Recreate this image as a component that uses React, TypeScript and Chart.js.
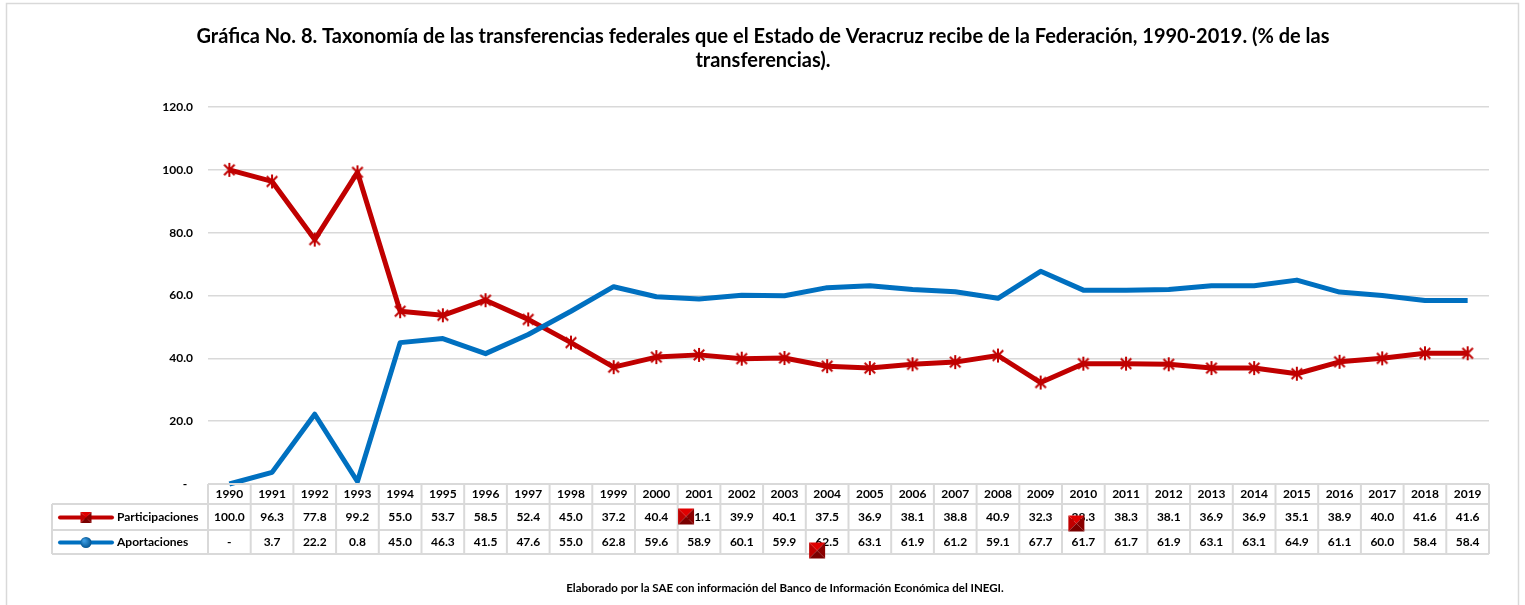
import React, { useEffect, useRef } from "react";
import { Chart, registerables } from "chart.js";

Chart.register(...registerables);

const years = [
  "1990", "1991", "1992", "1993", "1994", "1995", "1996", "1997", "1998", "1999",
  "2000", "2001", "2002", "2003", "2004", "2005", "2006", "2007", "2008", "2009",
  "2010", "2011", "2012", "2013", "2014", "2015", "2016", "2017", "2018", "2019",
];

const participaciones = [
  100.0, 96.3, 77.8, 99.2, 55.0, 53.7, 58.5, 52.4, 45.0, 37.2,
  40.4, 41.1, 39.9, 40.1, 37.5, 36.9, 38.1, 38.8, 40.9, 32.3,
  38.3, 38.3, 38.1, 36.9, 36.9, 35.1, 38.9, 40.0, 41.6, 41.6,
];

const aportaciones = [
  0, 3.7, 22.2, 0.8, 45.0, 46.3, 41.5, 47.6, 55.0, 62.8,
  59.6, 58.9, 60.1, 59.9, 62.5, 63.1, 61.9, 61.2, 59.1, 67.7,
  61.7, 61.7, 61.9, 63.1, 63.1, 64.9, 61.1, 60.0, 58.4, 58.4,
];

const seriesNames = ["Participaciones", "Aportaciones"];
const titleLines = [
  "Gráfica No. 8. Taxonomía de las transferencias federales que el Estado de Veracruz recibe de la Federación, 1990-2019. (% de las",
  "transferencias).",
];
const footnote = "Elaborado por la SAE con información del Banco de Información Económica del INEGI.";

const RED = "#C00000";
const BLUE = "#0070C0";
const GRID = "#d9d9d9";
const FONT = "Lato, 'Open Sans', sans-serif";

// stray legend-marker artifacts visible in the original (column index, row, dx, dy)
const strayMarkers = [
  { col: 11, row: 1, dx: -13, dy: -1 },
  { col: 14, row: 2, dx: -10, dy: 8 },
  { col: 20, row: 1, dx: -7, dy: 6 },
];

function makeStar(): HTMLCanvasElement {
  const c = document.createElement("canvas");
  c.width = 18;
  c.height = 18;
  const g = c.getContext("2d")!;
  g.strokeStyle = RED;
  g.lineWidth = 2;
  const cx = 9, cy = 9, r = 7, d = r * 0.75;
  g.beginPath();
  g.moveTo(cx - d, cy - d); g.lineTo(cx + d, cy + d);
  g.moveTo(cx + d, cy - d); g.lineTo(cx - d, cy + d);
  g.moveTo(cx, cy - r); g.lineTo(cx, cy + r);
  g.stroke();
  return c;
}

function drawPyramidSquare(ctx: CanvasRenderingContext2D, cx: number, cy: number, s: number) {
  const h = s / 2;
  const tris: [number, number, number, number, string][] = [
    [-h, -h, h, -h, "#e00000"],
    [-h, -h, -h, h, "#c00000"],
    [h, -h, h, h, "#8a0000"],
    [-h, h, h, h, "#7a0000"],
  ];
  for (const [x1, y1, x2, y2, col] of tris) {
    ctx.beginPath();
    ctx.moveTo(cx, cy);
    ctx.lineTo(cx + x1, cy + y1);
    ctx.lineTo(cx + x2, cy + y2);
    ctx.closePath();
    ctx.fillStyle = col;
    ctx.fill();
  }
}

const tablePlugin = {
  id: "dataTablePlugin",
  beforeDraw(chart: any) {
    const ctx: CanvasRenderingContext2D = chart.ctx;
    ctx.save();
    ctx.fillStyle = "#ffffff";
    ctx.fillRect(0, 0, chart.width, chart.height);
    ctx.strokeStyle = GRID;
    ctx.lineWidth = 1.5;
    ctx.strokeRect(6.5, 3.5, 1512, 700);
    ctx.restore();
  },
  afterDraw(chart: any) {
    const ctx: CanvasRenderingContext2D = chart.ctx;
    const xs = chart.scales.x;
    const area = chart.chartArea;
    const n = years.length;
    const colW = (area.right - area.left) / n;
    const top = area.bottom;
    const rowY = [top, top + 20, top + 46, top + 70];
    const legendLeft = 52;

    ctx.save();
    // title
    ctx.fillStyle = "#000";
    ctx.textAlign = "center";
    ctx.textBaseline = "middle";
    ctx.font = `bold 20px ${FONT}`;
    ctx.fillText(titleLines[0], 763, 37, 1133);
    ctx.fillText(titleLines[1], 763, 61);

    // footnote
    ctx.font = `bold 11.5px ${FONT}`;
    ctx.fillText(footnote, 785, 588, 474);

    // table grid
    ctx.strokeStyle = GRID;
    ctx.lineWidth = 2;
    ctx.beginPath();
    ctx.moveTo(area.left, rowY[0]); ctx.lineTo(area.right, rowY[0]);
    for (let r = 1; r < 4; r++) {
      ctx.moveTo(legendLeft, rowY[r]); ctx.lineTo(area.right, rowY[r]);
    }
    ctx.moveTo(legendLeft, rowY[1]); ctx.lineTo(legendLeft, rowY[3]);
    for (let i = 0; i <= n; i++) {
      const x = area.left + i * colW;
      ctx.moveTo(x, rowY[0]); ctx.lineTo(x, rowY[3]);
    }
    ctx.stroke();

    // cells
    ctx.fillStyle = "#000";
    ctx.font = `bold 12px ${FONT}`;
    ctx.textAlign = "center";
    const mid = (r: number) => (rowY[r] + rowY[r + 1]) / 2 + 0.5;
    for (let i = 0; i < n; i++) {
      const x = xs.getPixelForValue(i);
      ctx.fillText(years[i], x, mid(0), colW - 4);
      ctx.fillText(participaciones[i] === 0 ? "-" : participaciones[i].toFixed(1), x, mid(1), colW - 4);
      ctx.fillText(aportaciones[i] === 0 ? "-" : aportaciones[i].toFixed(1), x, mid(2), colW - 4);
    }

    // legend keys
    ctx.textAlign = "left";
    ctx.fillText(seriesNames[0], 117, mid(1), 84);
    ctx.fillText(seriesNames[1], 117, mid(2), 73);
    ctx.lineCap = "round";
    ctx.lineWidth = 4;
    ctx.strokeStyle = RED;
    ctx.beginPath();
    ctx.moveTo(60, mid(1)); ctx.lineTo(112, mid(1));
    ctx.stroke();
    ctx.strokeStyle = BLUE;
    ctx.beginPath();
    ctx.moveTo(60, mid(2)); ctx.lineTo(112, mid(2));
    ctx.stroke();
    drawPyramidSquare(ctx, 86, mid(1), 11);
    const grd = ctx.createRadialGradient(84, mid(2) - 2, 1, 86, mid(2), 6);
    grd.addColorStop(0, "#3a9ae0");
    grd.addColorStop(1, "#00508c");
    ctx.fillStyle = grd;
    ctx.beginPath();
    ctx.arc(86, mid(2), 5.5, 0, Math.PI * 2);
    ctx.fill();

    // stray markers
    for (const m of strayMarkers) {
      const x = xs.getPixelForValue(m.col) + m.dx;
      drawPyramidSquare(ctx, x, mid(m.row) + m.dy, 16);
    }
    ctx.restore();
  },
};

export default function App() {
  const ref = useRef<HTMLCanvasElement | null>(null);

  useEffect(() => {
    document.body.style.margin = "0";
    const canvas = ref.current!;
    const star = makeStar();
    const chart = new Chart(canvas, {
      type: "line",
      data: {
        labels: years,
        datasets: [
          {
            label: seriesNames[0],
            data: participaciones,
            borderColor: RED,
            backgroundColor: RED,
            borderWidth: 5,
            pointStyle: star as any,
            pointRadius: 7,
            tension: 0,
            clip: false as any,
            borderJoinStyle: "round",
            order: 1,
          },
          {
            label: seriesNames[1],
            data: aportaciones,
            borderColor: BLUE,
            backgroundColor: BLUE,
            borderWidth: 5,
            pointRadius: 0,
            tension: 0,
            clip: false as any,
            borderJoinStyle: "round",
            order: 0,
          },
        ],
      },
      options: {
        responsive: false,
        animation: false,
        devicePixelRatio: 1,
        layout: { padding: { left: 0, right: 36, top: 107, bottom: 121 } },
        plugins: {
          legend: { display: false },
          title: { display: false },
          tooltip: { enabled: false },
        },
        scales: {
          x: { type: "category", offset: true, display: false },
          y: {
            min: 0,
            max: 120,
            afterFit: (scale: any) => { scale.width = 208; },
            border: { display: false },
            grid: { color: GRID, lineWidth: 1.5, drawTicks: false },
            ticks: {
              stepSize: 20,
              padding: 15,
              color: "#000",
              font: { family: FONT, size: 12, weight: "bold" },
              callback: (v: any) => (Number(v) === 0 ? "-  " : Number(v).toFixed(1)),
            },
          },
        },
      },
      plugins: [tablePlugin],
    });
    return () => chart.destroy();
  }, []);

  return <canvas ref={ref} width={1525} height={605} style={{ display: "block" }} />;
}
